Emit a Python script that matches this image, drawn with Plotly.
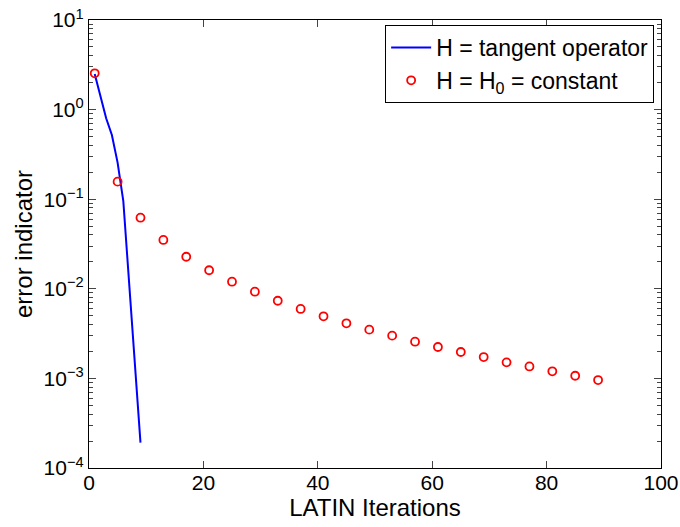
import plotly.graph_objects as go

# Data
tangent_iter = [1, 2, 3, 4, 5, 6, 7, 8, 9]
tangent_err = [2.5, 1.36, 0.80, 0.52, 0.256, 0.095, 0.012, 0.0015, 1.92e-4]

const_iter = [1, 5, 9, 13, 17, 21, 25, 29, 33, 37, 41, 45, 49, 53, 57, 61, 65, 69, 73, 77, 81, 85, 89]
const_err = [2.54, 0.157, 0.0622, 0.0351, 0.0228, 0.0161, 0.0120, 0.00929, 0.00736, 0.00596,
             0.00493, 0.00412, 0.00350, 0.00300, 0.00257, 0.00224, 0.00197, 0.00173, 0.00151,
             0.00136, 0.00120, 0.00107, 0.000959]

x_ticks = [0, 20, 40, 60, 80, 100]
y_tickvals = [1e1, 1e0, 1e-1, 1e-2, 1e-3, 1e-4]
y_ticktext = ["10<sup>1</sup>", "10<sup>0</sup>", "10<sup>\u22121</sup>", "10<sup>\u22122</sup>",
              "10<sup>\u22123</sup>", "10<sup>\u22124</sup>"]
y_minor = [m * 10.0 ** e for e in range(-4, 1) for m in range(2, 10)]

FONT = "Liberation Sans, Arial, Helvetica, sans-serif"

fig = go.Figure()
fig.add_trace(go.Scatter(x=tangent_iter, y=tangent_err, mode="lines",
                         line=dict(color="#0000ff", width=2),
                         name="H = tangent operator"))
fig.add_trace(go.Scatter(x=const_iter, y=const_err, mode="markers",
                         marker=dict(symbol="circle-open", color="#ff0000", size=8,
                                     line=dict(width=1.8, color="#ff0000")),
                         name="H = H<sub>0</sub> = constant"))

fig.update_layout(
    width=680, height=527,
    margin=dict(l=89, r=19, t=20, b=59, autoexpand=False),
    paper_bgcolor="white", plot_bgcolor="white",
    font=dict(family=FONT, size=21, color="black"),
    showlegend=True,
    legend=dict(x=0.988, y=0.989, xanchor="right", yanchor="top",
                bgcolor="white", bordercolor="black", borderwidth=1,
                font=dict(size=23), tracegroupgap=0,
                itemwidth=40),
    xaxis=dict(range=[0, 100], tickvals=x_ticks, ticks="inside", ticklen=7,
               showline=True, linecolor="black", linewidth=1.2, mirror="ticks",
               showgrid=False, zeroline=False, tickfont=dict(size=21), automargin=False,
               ticklabelstandoff=-4,
               title=dict(text="LATIN Iterations", font=dict(size=24), standoff=0)),
    yaxis=dict(type="log", range=[-4, 1], tickvals=y_tickvals, ticktext=y_ticktext,
               ticks="inside", ticklen=7,
               minor=dict(tickmode="array", tickvals=y_minor, ticks="inside", ticklen=4,
                          showgrid=False),
               showline=True, linecolor="black", linewidth=1.2, mirror="ticks",
               showgrid=False, zeroline=False, tickfont=dict(size=21), automargin=False,
               title=dict(text="error indicator", font=dict(size=24), standoff=4)),
)

fig.write_html("out.html",
               config={"displayModeBar": False},
               post_script="document.body.style.margin='0';document.body.style.padding='0';")
